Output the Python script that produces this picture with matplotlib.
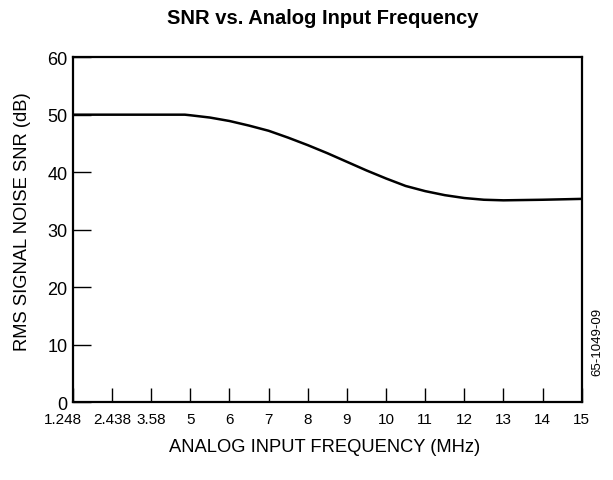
import matplotlib.pyplot as plt
import matplotlib.transforms as mtransforms
import numpy as np

plt.rcParams['font.family'] = ['Liberation Sans', 'DejaVu Sans']

# x axis ticks (MHz) - drawn evenly spaced like the original
tick_freqs = [1.248, 2.438, 3.58, 5, 6, 7, 8, 9, 10, 11, 12, 13, 14, 15]
tick_labels = ["1.248", "2.438", "3.58", "5", "6", "7", "8", "9", "10",
               "11", "12", "13", "14", "15"]

# curve
freq = [1.248, 2.438, 3.58, 4.4, 4.8, 5.0, 5.5, 6.0, 6.5, 7.0, 7.5, 8.0, 8.5,
        9.0, 9.5, 10.0, 10.5, 11.0, 11.5, 12.0, 12.5, 13.0, 13.5, 14.0, 15.0]
snr = [50.0, 50.0, 50.0, 50.0, 50.0, 49.9, 49.5, 48.9, 48.1, 47.2, 46.0, 44.7, 43.3,
       41.8, 40.3, 38.9, 37.6, 36.7, 36.0, 35.5, 35.2, 35.1, 35.15, 35.2, 35.35]


def to_pos(f):
    # piecewise linear scale so the labelled ticks are equally spaced
    return np.interp(f, tick_freqs, np.arange(len(tick_freqs)))


def main():
    fig = plt.figure(figsize=(6.13, 4.81), dpi=100)
    ax = fig.add_axes([0.119, 0.162, 0.830, 0.717])

    xs = to_pos(np.array(freq))
    ax.plot(xs, snr, color="black", lw=1.8, solid_capstyle="butt")

    ax.set_xlim(0, len(tick_freqs) - 1)
    ax.set_ylim(0, 60)
    ax.set_xticks(np.arange(len(tick_freqs)))
    ax.set_xticklabels(tick_labels)
    ax.set_yticks(range(0, 61, 10))

    for s in ax.spines.values():
        s.set_linewidth(1.6)

    ax.tick_params(axis="x", direction="in", length=10, width=1.0, labelsize=11, pad=7)
    ax.tick_params(axis="y", direction="in", length=13, width=1.0, labelsize=13, pad=4)

    # first x label sits a bit left of the corner, like the original
    first = ax.get_xticklabels()[0]
    first.set_transform(first.get_transform() +
                        mtransforms.ScaledTranslation(-0.1, 0, fig.dpi_scale_trans))

    fig.text(0.53, 0.069, "ANALOG INPUT FREQUENCY (MHz)", fontsize=13.2,
             ha="center", va="center")
    fig.text(0.036, 0.54, "RMS SIGNAL NOISE SNR (dB)", fontsize=13.2,
             rotation=90, ha="center", va="center")
    fig.text(0.527, 0.962, "SNR vs. Analog Input Frequency", fontsize=14.5,
             fontweight="bold", ha="center", va="center")

    fig.text(0.974, 0.29, "65-1049-09", rotation=90, fontsize=9.5, ha="center", va="center")

    fig.savefig("out.png", dpi=100)


if __name__ == "__main__":
    main()
